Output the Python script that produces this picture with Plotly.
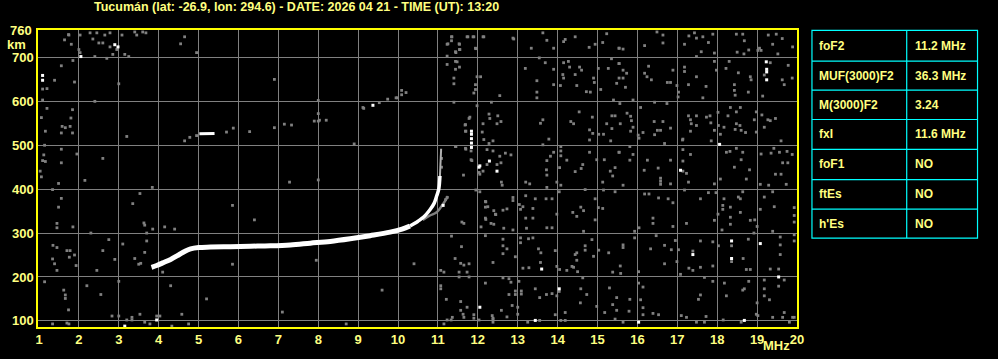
import plotly.graph_objects as go

# ---------------- data ----------------
title_text = "Tucumán (lat: -26.9, lon: 294.6) - DATE: 2026 04 21 - TIME (UT): 13:20"

x_ticks = list(range(1, 21))
y_ticks = [100, 200, 300, 400, 500, 600, 700]

# ordinary F2 trace (MHz, km) - lower, thick part
o_freq = [3.82, 3.95, 4.1, 4.3, 4.5, 4.65, 4.8, 5.0, 5.3, 5.8, 6.3, 6.8, 7.3, 7.8, 8.3,
          8.8, 9.3, 9.8, 10.1, 10.3]
o_height = [222, 226, 232, 240, 250, 258, 264, 267, 268, 269, 270, 271, 273, 277, 281,
            287, 294, 302, 309, 316]
# ordinary trace, cusp part (thinner)
o_cusp_freq = [10.3, 10.5, 10.65, 10.8, 10.9, 10.97, 11.02, 11.05]
o_cusp_height = [316, 327, 337, 353, 367, 385, 400, 430]
# upper, fainter continuation of the ordinary trace
o_top_freq = [11.05, 11.07, 11.08]
o_top_height = [430, 460, 492]

# extraordinary trace
x_freq = [10.62, 10.8, 10.95, 11.05, 11.13, 11.2, 11.25]
x_height = [330, 340, 346, 356, 366, 376, 384]

# faint multiple echo near 530-610 km
m_white_freq = [5.02, 5.4]
m_white_height = [526, 527]
m_white_pts = [(9.37, 591)]
m_gray_freq = [4.65, 4.78, 4.95, 5.7, 5.87, 6.28, 6.9, 7.15, 7.33, 8.0, 8.2, 9.12, 9.53, 9.74, 9.95]
m_gray_height = [510, 518, 522, 530, 539, 531, 540, 548, 546, 555, 557, 586, 597, 605, 608]

# white spurious echoes
white_pts = [(11.84, 495), (11.84, 505), (11.84, 515), (11.84, 525), (11.84, 532),
             (12.29, 464), (12.05, 453), (12.48, 441), (13.6, 218), (14.04, 173), (12.05, 131),
             (13.44, 101), (19.23, 690), (19.24, 673), (19.24, 667), (19.24, 649),
             (18.06, 502), (17.08, 443), (18.36, 282), (18.36, 242), (19.08, 276), (17.39, 251),
             (19.54, 200), (18.68, 101), (16.03, 97), (1.09, 659), (1.09, 648), (2.9, 729),
             (2.98, 724), (2.05, 702), (3.15, 88), (3.95, 102), (11.13, 363), (12.03, 450)]

# gray background noise (MHz, km)
noise_pts = [
    # 1-2 MHz
    (1.74, 752), (1.64, 740), (1.81, 730), (2.03, 711), (1.85, 693), (1.56, 681), (1.09, 628),
    (1.2, 629), (1.39, 648), (1.89, 644), (1.09, 603), (1.2, 584), (1.06, 563), (1.16, 532),
    (1.58, 543), (1.56, 528), (1.66, 540), (1.78, 543), (1.84, 528), (1.84, 581), (1.8, 562),
    (1.14, 500), (1.56, 491), (1.12, 478), (1.09, 465), (1.16, 463), (1.56, 460), (1.95, 480),
    (1.03, 441), (1.06, 428), (1.49, 413), (1.34, 399), (1.56, 379), (1.49, 359), (1.45, 322),
    (1.45, 312), (1.85, 314), (1.35, 272), (1.45, 267), (1.34, 241), (1.39, 230), (1.45, 215),
    (1.7, 260), (1.78, 260), (1.76, 245), (1.89, 250), (1.93, 226), (1.14, 189), (1.62, 170),
    (1.66, 159), (1.66, 151), (1.74, 125), (1.34, 93), (1.7, 95), (1.75, 93),
    # 2-11 MHz
    (1.75, 751), (2.03, 751), (2.28, 756), (2.35, 742), (2.45, 756), (2.5, 733), (2.6, 733),
    (2.65, 751), (2.78, 756), (2.78, 724), (3.08, 751), (3.4, 758), (3.45, 751), (3.6, 758),
    (3.68, 756), (4.65, 747), (4.55, 731), (4.95, 711), (2.0, 718), (2.4, 702), (2.7, 698),
    (2.85, 707), (2.95, 718), (3.15, 707), (3.25, 702), (2.83, 111), (3.0, 111), (3.2, 102),
    (3.33, 108), (3.33, 102), (3.53, 115), (3.65, 97), (3.78, 93), (3.95, 111), (4.03, 111),
    (4.33, 88), (4.58, 115), (4.75, 93), (8.7, 93), (3.84, 404), (3.53, 390), (3.35, 367),
    (3.63, 323), (3.65, 318), (3.85, 309), (3.7, 300), (3.7, 282), (3.65, 256), (3.4, 242),
    (3.5, 229), (3.55, 231), (4.15, 314), (4.4, 309), (4.1, 211), (5.85, 363), (5.85, 229),
    (7.28, 416), (8.0, 421), (7.95, 238), (8.0, 602), (8.0, 572), (7.9, 555), (8.03, 557),
    (8.9, 503), (9.14, 584), (10.09, 625), (10.2, 620), (10.09, 615), (9.98, 608),
    (2.2, 180), (2.45, 215), (2.6, 260), (2.75, 285), (2.9, 240), (3.1, 275), (2.3, 300),
    (2.55, 160), (3.0, 190), (2.15, 420), (2.6, 470), (3.2, 520), (2.4, 600), (3.0, 640),
    (4.3, 180), (5.2, 150), (6.4, 330), (7.1, 120), (9.6, 170), (10.4, 230), (6.9, 650),
    # 11-15.5 MHz upper
    (11.34, 747), (11.34, 738), (11.23, 730), (11.54, 730), (11.54, 718), (11.44, 713),
    (11.73, 747), (11.88, 747), (11.94, 721), (12.13, 747), (12.88, 744), (13.63, 756),
    (13.73, 739), (13.34, 721), (13.9, 721), (14.15, 736), (14.19, 741), (14.44, 747),
    (14.79, 723), (14.94, 730), (15.13, 734), (15.23, 754), (15.54, 721), (11.23, 703),
    (11.44, 691), (11.48, 690), (11.23, 684), (11.54, 678), (11.44, 673), (11.98, 656),
    (12.07, 656), (11.4, 653), (11.4, 640), (11.94, 638), (11.9, 619), (11.94, 627),
    (12.55, 613), (13.19, 675), (13.54, 699), (13.69, 688), (13.9, 673), (13.48, 647),
    (13.48, 621), (13.48, 608), (13.9, 638), (14.07, 636), (14.13, 661), (14.15, 653),
    (14.27, 691), (14.15, 688), (14.3, 678), (14.44, 661), (14.55, 678), (14.48, 636),
    (14.6, 671), (14.72, 622), (14.9, 653), (14.92, 643), (14.82, 621), (15.02, 675),
    (15.08, 627), (15.27, 675), (15.35, 697), (15.48, 641), (15.54, 686), (15.54, 653),
    (15.4, 603), (11.4, 598), (11.98, 590), (12.34, 598), (11.8, 564), (11.69, 547),
    (11.69, 532), (12.13, 549), (12.11, 530), (12.28, 571), (12.3, 561), (12.5, 567),
    (12.58, 554), (12.48, 549), (12.38, 510), (12.28, 504), (12.15, 513), (13.57, 550),
    (13.63, 558), (14.33, 554), (14.4, 549), (14.54, 576), (14.8, 535), (14.87, 564),
    (14.88, 527), (15.03, 525), (15.15, 525), (15.23, 549), (15.36, 567), (15.44, 567),
    (15.36, 538), (15.57, 549), (15.33, 510), (13.78, 514), (14.8, 512), (11.44, 497),
    (11.69, 493), (11.83, 487), (11.83, 467), (12.23, 490), (12.38, 487), (12.55, 475),
    (12.69, 482), (12.83, 478), (12.58, 460), (12.48, 456), (12.23, 456), (12.13, 441),
    (12.03, 438), (13.63, 501), (13.73, 465), (13.9, 484), (13.82, 475), (13.72, 444),
    (13.73, 432), (14.08, 497), (14.08, 487), (14.08, 476), (14.05, 449), (14.23, 466),
    (14.44, 440), (14.59, 447), (14.63, 456), (14.8, 484), (14.98, 467), (15.17, 467),
    (15.32, 441), (15.44, 449), (15.38, 430), (15.54, 484), (11.78, 561), (11.68, 546),
    (11.7, 532), (11.45, 497), (11.7, 491), (11.85, 465), (11.64, 432), (11.09, 470),
    (11.09, 450), (12.05, 434), (11.95, 398), (12.05, 394), (12.2, 371), (12.25, 360),
    (12.45, 342), (12.2, 331), (12.33, 322), (11.65, 322),
    (11.25, 731), (11.35, 747), (11.53, 731), (11.55, 718), (11.45, 711), (11.75, 747),
    (11.9, 747), (11.95, 720), (12.15, 747), (12.9, 742),
    # 11-15.5 MHz lower
    (12.59, 416), (12.61, 409), (13.3, 412), (13.2, 416), (13.73, 404), (13.98, 416),
    (14.08, 409), (14.04, 394), (14.69, 399), (15.13, 416), (15.44, 394), (15.15, 398),
    (11.19, 376), (11.23, 381), (11.6, 325), (12.19, 372), (12.19, 359), (12.19, 334),
    (12.4, 351), (12.44, 343), (12.63, 352), (12.73, 355), (12.88, 374), (12.88, 381),
    (13.04, 365), (13.13, 360), (13.07, 354), (13.2, 385), (13.38, 356), (13.38, 334),
    (13.2, 334), (13.44, 378), (13.71, 378), (13.86, 378), (13.98, 343), (14.38, 347),
    (14.48, 338), (14.58, 359), (14.65, 351), (14.94, 330), (14.94, 378), (15.13, 356),
    (15.02, 358), (12.08, 314), (12.4, 320), (12.65, 311), (12.88, 307), (13.22, 311),
    (13.73, 312), (13.86, 312), (14.65, 304), (11.34, 293), (11.59, 269), (12.19, 294),
    (12.63, 286), (12.63, 271), (12.63, 253), (12.73, 264), (13.07, 289), (13.07, 278),
    (13.27, 287), (13.38, 289), (13.52, 264), (13.58, 255), (13.94, 260), (14.48, 255),
    (14.44, 251), (14.69, 271), (14.69, 261), (14.86, 285), (14.9, 247), (15.03, 261),
    (15.28, 255), (14.48, 238), (14.4, 222), (14.5, 212), (11.43, 242), (11.57, 231),
    (11.65, 227), (11.78, 230), (11.53, 211), (11.73, 211), (12.38, 233), (12.94, 246),
    (13.13, 220), (13.28, 221), (13.57, 233), (13.98, 224), (14.05, 217), (14.23, 215),
    (14.36, 224), (15.38, 211), (11.07, 215), (11.53, 200), (11.78, 200), (12.19, 186),
    (12.63, 198), (12.78, 196), (12.83, 188), (13.03, 190), (12.94, 168), (13.09, 168),
    (13.09, 161), (12.94, 160), (12.78, 160), (13.44, 173), (13.55, 153), (13.72, 160),
    (13.86, 162), (13.98, 157), (14.04, 167), (14.63, 198), (14.58, 173), (14.73, 160),
    (15.3, 175), (15.48, 153), (11.07, 180), (11.07, 173), (11.21, 149), (11.57, 144),
    (11.73, 131), (11.57, 124), (11.9, 114), (12.36, 112), (12.38, 104), (12.59, 124),
    (12.73, 109), (12.86, 135), (13.0, 131), (13.0, 115), (13.25, 97), (13.55, 101),
    (13.94, 114), (14.19, 119), (14.57, 141), (14.98, 133), (15.18, 119), (15.38, 137),
    (15.48, 124), (15.44, 104), (11.36, 108), (11.23, 102), (14.08, 101), (14.19, 101),
    (11.15, 93), (11.33, 102), (11.65, 108), (11.9, 106), (12.03, 102), (12.38, 106),
    (12.38, 97), (11.63, 115), (11.15, 211),
    # 15.5-20 MHz upper
    (15.64, 719), (15.54, 721), (16.49, 758), (16.64, 751), (16.64, 733), (16.18, 727),
    (17.18, 730), (17.29, 749), (17.43, 756), (17.48, 744), (17.64, 747), (17.78, 734),
    (17.89, 753), (17.6, 713), (17.93, 710), (17.48, 702), (18.48, 753), (18.64, 753),
    (18.68, 738), (18.5, 712), (18.67, 708), (18.79, 717), (19.06, 721), (19.1, 716),
    (19.28, 751), (19.48, 753), (19.39, 730), (19.63, 743), (19.52, 708), (19.89, 724),
    (15.54, 686), (15.64, 671), (15.73, 664), (15.7, 632), (15.64, 653), (16.28, 680),
    (16.24, 656), (16.18, 664), (16.35, 649), (16.89, 671), (16.75, 643), (16.83, 643),
    (16.99, 636), (17.03, 621), (17.02, 610), (17.18, 678), (17.18, 668), (17.28, 638),
    (17.48, 656), (17.72, 634), (17.64, 608), (17.93, 691), (17.98, 671), (18.3, 691),
    (18.22, 675), (18.53, 665), (18.43, 638), (18.43, 625), (18.45, 614), (18.83, 656),
    (18.85, 649), (18.78, 621), (19.02, 716), (19.18, 660), (19.33, 688), (19.14, 612),
    (19.63, 649), (19.68, 638), (19.78, 682), (19.88, 653), (15.56, 595), (15.89, 603),
    (16.43, 598), (16.74, 595), (16.08, 586), (15.74, 573), (15.83, 566), (15.85, 556),
    (15.89, 541), (15.83, 532), (16.02, 523), (16.04, 516), (16.14, 529), (16.42, 554),
    (16.43, 524), (16.5, 534), (16.58, 534), (16.64, 554), (16.83, 539), (16.68, 504),
    (17.14, 514), (17.28, 567), (17.33, 558), (17.35, 549), (17.33, 532), (17.48, 567),
    (17.48, 545), (17.73, 564), (17.82, 567), (17.84, 551), (17.93, 534), (18.02, 575),
    (18.03, 545), (18.08, 525), (18.17, 541), (18.27, 567), (18.33, 586), (18.48, 576),
    (18.48, 549), (18.57, 545), (18.6, 534), (18.71, 529), (18.45, 536), (18.58, 586),
    (18.98, 576), (18.93, 558), (18.98, 530), (19.12, 569), (19.27, 558), (19.33, 556),
    (19.46, 561), (19.18, 541), (19.6, 510), (17.13, 512), (17.85, 510), (15.54, 484),
    (15.81, 497), (15.89, 479), (15.81, 466), (16.17, 443), (16.25, 466), (16.52, 448),
    (16.58, 425), (16.83, 466), (17.14, 490), (17.14, 464), (17.14, 441), (17.23, 436),
    (17.33, 479), (18.23, 484), (18.32, 486), (18.48, 493), (18.6, 467), (18.43, 450),
    (18.64, 484), (18.81, 444), (19.1, 480), (19.35, 482), (19.42, 493), (19.56, 484),
    (19.75, 486), (19.77, 460), (19.64, 460), (19.6, 434), (19.46, 434), (19.88, 479),
    # 15.5-20 MHz lower
    (15.64, 409), (16.58, 418), (16.58, 411), (16.83, 412), (17.28, 416), (17.93, 412),
    (18.08, 423), (18.73, 423), (19.08, 411), (19.29, 409), (19.73, 411), (16.18, 389),
    (16.29, 389), (16.53, 380), (16.77, 378), (16.89, 369), (17.18, 398), (17.58, 378),
    (17.78, 392), (17.97, 392), (18.17, 378), (18.14, 363), (18.14, 354), (18.02, 343),
    (18.33, 359), (18.53, 382), (18.58, 378), (18.64, 394), (18.33, 336), (18.33, 320),
    (18.58, 347), (18.83, 329), (19.08, 354), (19.18, 382), (19.39, 394), (19.43, 360),
    (19.93, 358), (19.93, 340), (19.93, 325), (16.39, 334), (16.39, 322), (16.89, 315),
    (17.23, 322), (17.93, 329), (18.12, 307), (18.94, 330), (19.0, 315), (15.64, 273),
    (15.64, 267), (15.93, 304), (15.93, 289), (16.04, 312), (16.47, 294), (16.33, 264),
    (16.68, 272), (16.85, 262), (16.95, 283), (17.03, 262), (17.39, 259), (17.58, 282),
    (17.89, 280), (18.03, 271), (18.36, 271), (18.36, 235), (18.65, 242), (18.78, 286),
    (18.92, 300), (19.39, 304), (19.58, 291), (19.58, 273), (19.58, 251), (19.93, 296),
    (19.93, 282), (15.57, 225), (15.58, 208), (16.03, 212), (16.68, 230), (16.99, 235),
    (17.29, 220), (17.39, 215), (17.58, 222), (17.89, 225), (18.73, 217), (18.83, 217),
    (19.33, 218), (19.54, 218), (19.54, 179), (19.68, 193), (19.18, 193), (19.18, 173),
    (19.18, 157), (16.03, 186), (16.14, 177), (17.08, 206), (17.68, 199), (17.89, 190),
    (18.18, 186), (18.23, 157), (18.64, 170), (18.68, 173), (18.79, 190), (19.0, 141),
    (18.98, 115), (19.31, 148), (19.68, 119), (19.93, 108), (16.08, 148), (16.14, 130),
    (15.81, 149), (15.79, 122), (16.14, 114), (16.39, 117), (16.53, 114), (17.58, 159),
    (17.53, 149), (17.1, 112), (17.23, 108), (17.72, 110), (18.15, 102), (19.02, 112),
    (19.39, 108), (19.64, 108), (19.89, 108), (15.64, 97), (17.48, 97), (17.68, 97),
    (18.6, 97), (19.81, 97),
]

table_params = ["foF2", "MUF(3000)F2", "M(3000)F2", "fxI", "foF1", "ftEs", "h'Es"]
table_values = ["11.2 MHz", "36.3 MHz", "3.24", "11.6 MHz", "NO", "NO", "NO"]

# ---------------- layout geometry (pixels) ----------------
W, H = 998, 359
PL, PR, PT, PB = 36, 797, 30, 333


def px_x(px):
    return (px - PL) / (PR - PL)


def px_y(py):
    return (PB - py) / (PB - PT)


YELLOW_TXT = "#FFFF80"
YELLOW_LINE = "#FFFF00"
GRAY = "#808080"
CYAN = "#00FFFF"
FONT = "Liberation Sans"

fig = go.Figure()

noise_f = [p[0] for p in noise_pts]
noise_h = [p[1] for p in noise_pts]
fig.add_trace(go.Scatter(x=noise_f, y=noise_h, mode="markers",
                         marker=dict(symbol="square", size=2.8, color=GRAY, line=dict(width=0)),
                         hoverinfo="skip", showlegend=False))

fig.add_trace(go.Scatter(x=m_gray_freq, y=m_gray_height, mode="markers",
                         marker=dict(symbol="square", size=2.8, color=GRAY, line=dict(width=0)),
                         hoverinfo="skip", showlegend=False))

fig.add_trace(go.Scatter(x=x_freq, y=x_height, mode="lines",
                         line=dict(color=GRAY, width=2.5, shape="spline"),
                         hoverinfo="skip", showlegend=False))

fig.add_trace(go.Scatter(x=o_top_freq, y=o_top_height, mode="lines",
                         line=dict(color="#B0B0B0", width=2),
                         hoverinfo="skip", showlegend=False))

fig.add_trace(go.Scatter(x=o_cusp_freq, y=o_cusp_height, mode="lines",
                         line=dict(color="white", width=3.5, shape="spline"),
                         hoverinfo="skip", showlegend=False))

fig.add_trace(go.Scatter(x=o_freq, y=o_height, mode="lines",
                         line=dict(color="white", width=5, shape="spline"),
                         hoverinfo="skip", showlegend=False))

fig.add_trace(go.Scatter(x=m_white_freq, y=m_white_height, mode="lines",
                         line=dict(color="white", width=3),
                         hoverinfo="skip", showlegend=False))

wf = [p[0] for p in white_pts + m_white_pts]
wh = [p[1] for p in white_pts + m_white_pts]
fig.add_trace(go.Scatter(x=wf, y=wh, mode="markers",
                         marker=dict(symbol="square", size=3, color="white", line=dict(width=0)),
                         hoverinfo="skip", showlegend=False))

tick_font = dict(family=FONT, size=13, color=YELLOW_TXT, weight="bold")

fig.update_xaxes(range=[0.975, 20.0], tickvals=x_ticks, ticktext=[str(v) for v in x_ticks],
                 showgrid=True, gridcolor=GRAY, gridwidth=1, zeroline=False,
                 showline=True, mirror=True, linecolor=YELLOW_LINE, linewidth=1.5,
                 ticks="", tickfont=tick_font)
fig.update_yaxes(range=[86, 762.5], tickvals=y_ticks, ticktext=[str(v) for v in y_ticks],
                 showgrid=True, gridcolor=GRAY, gridwidth=1, zeroline=False,
                 showline=True, mirror=True, linecolor=YELLOW_LINE, linewidth=1.5,
                 ticks="", tickfont=tick_font)

annotations = [
    dict(text=title_text, xref="paper", yref="paper", x=px_x(295), y=px_y(7),
         xanchor="center", yanchor="middle", showarrow=False,
         font=dict(family=FONT, size=12.5, color=YELLOW_TXT, weight="bold")),
    dict(text="760", xref="paper", yref="paper", x=px_x(32), y=px_y(31),
         xanchor="right", yanchor="middle", showarrow=False, font=tick_font),
    dict(text="km", xref="paper", yref="paper", x=px_x(14), y=px_y(45),
         xanchor="center", yanchor="middle", showarrow=False, font=tick_font),
    dict(text="MHz", xref="paper", yref="paper", x=px_x(776), y=px_y(352),
         xanchor="center", yanchor="middle", showarrow=False, font=tick_font),
]

shapes = []
tbl_l, tbl_r, tbl_mid = 812, 978, 907
row_lines = [30.3, 61.7, 91.3, 121.3, 151.7, 182.7, 212.7, 242.3]
shapes.append(dict(type="rect", xref="paper", yref="paper",
                   x0=px_x(tbl_l), x1=px_x(tbl_r), y0=px_y(row_lines[0]), y1=px_y(row_lines[-1]),
                   line=dict(color=CYAN, width=1.2), fillcolor="rgba(0,0,0,0)"))
shapes.append(dict(type="line", xref="paper", yref="paper",
                   x0=px_x(tbl_mid), x1=px_x(tbl_mid), y0=px_y(row_lines[0]), y1=px_y(row_lines[-1]),
                   line=dict(color=CYAN, width=1.2)))
for yl in row_lines[1:-1]:
    shapes.append(dict(type="line", xref="paper", yref="paper",
                       x0=px_x(tbl_l), x1=px_x(tbl_r), y0=px_y(yl), y1=px_y(yl),
                       line=dict(color=CYAN, width=1.2)))

cell_font = dict(family=FONT, size=12, color=YELLOW_TXT, weight="bold")
for i, (p, v) in enumerate(zip(table_params, table_values)):
    yc = (row_lines[i] + row_lines[i + 1]) / 2
    annotations.append(dict(text=p, xref="paper", yref="paper", x=px_x(817), y=px_y(yc),
                            xanchor="left", yanchor="middle", showarrow=False, font=cell_font))
    annotations.append(dict(text=v, xref="paper", yref="paper", x=px_x(913), y=px_y(yc),
                            xanchor="left", yanchor="middle", showarrow=False, font=cell_font))

fig.update_layout(width=W, height=H, autosize=False,
                  margin=dict(l=PL, r=W - PR, t=PT, b=H - PB, pad=0),
                  paper_bgcolor="black", plot_bgcolor="black",
                  showlegend=False, annotations=annotations, shapes=shapes)

fig.write_html("out.html", include_plotlyjs=True, full_html=True,
               config={"displayModeBar": False})
